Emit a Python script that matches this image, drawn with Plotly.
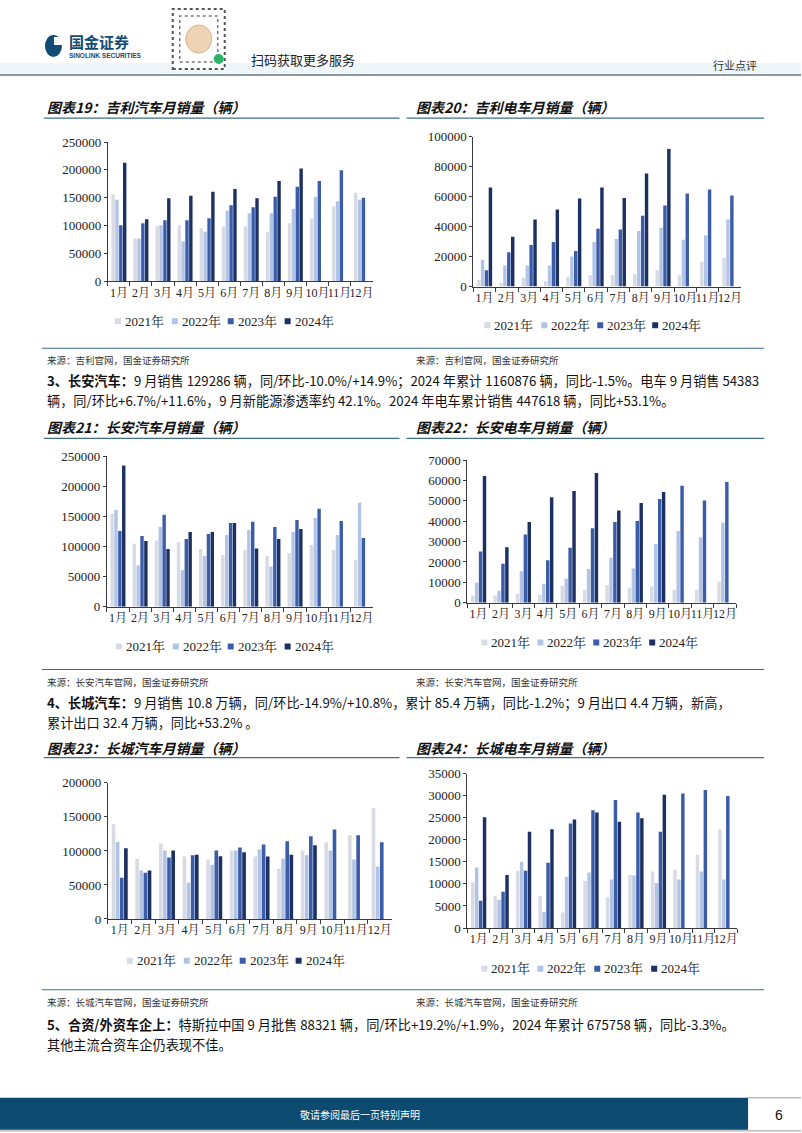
import plotly.graph_objects as go

W, H = 802, 1133

months = ["1月", "2月", "3月", "4月", "5月", "6月", "7月", "8月", "9月", "10月", "11月", "12月"]
years = ["2021年", "2022年", "2023年", "2024年"]
colors = ["#D8DBE3", "#B2C4E6", "#3B5CA8", "#1C3162"]

# 图表19 吉利汽车月销量
geely_2021 = [156000, 76700, 98900, 100700, 95300, 98300, 98300, 88700, 104300, 112100, 134900, 158900]
geely_2022 = [146300, 76700, 100700, 72000, 88700, 126500, 122300, 122300, 130100, 151700, 143900, 146300]
geely_2023 = [100700, 104300, 109700, 109700, 113300, 136700, 133100, 151700, 169700, 179900, 199600, 149900]
geely_2024 = [212800, 111500, 149300, 153500, 160700, 165500, 149300, 179900, 202600, None, None, None]

# 图表20 吉利电车月销量
geely_ev_2021 = [4450, 2200, 5800, 3600, 6500, 7600, 7600, 8200, 10900, 7600, 16500, 19100]
geely_ev_2022 = [17800, 14000, 14000, 14000, 20000, 29800, 31800, 37000, 39200, 31200, 34300, 44800]
geely_ev_2023 = [10900, 22900, 27800, 29800, 23800, 38500, 38100, 47200, 54100, 62100, 64800, 60800]
geely_ev_2024 = [66100, 33200, 44800, 51400, 58800, 66100, 59200, 75500, 91800, None, None, None]

# 图表21 长安汽车月销量
changan_2021 = [154300, 104500, 110100, 107300, 95700, 85700, 94000, 84100, 89000, 102300, 94600, 77400]
changan_2022 = [160400, 68600, 132200, 60800, 84100, 118900, 127200, 66900, 123900, 147100, 118900, 172600]
changan_2023 = [125600, 117300, 152700, 112300, 120600, 138800, 141000, 132200, 143800, 162600, 142100, 113900]
changan_2024 = [234500, 108900, 95700, 123900, 123900, 138800, 96800, 112300, 128900, None, None, None]

# 图表22 长安电车月销量
changan_ev_2021 = [3600, 3600, 4400, 3900, 8200, 6400, 8700, 7400, 8000, 6400, 6400, 10300]
changan_ev_2022 = [9800, 5900, 15400, 9300, 11800, 16500, 22100, 16800, 28800, 35200, 32100, 39300]
changan_ev_2023 = [25200, 19100, 33500, 20800, 27000, 36600, 39600, 40100, 50900, 57400, 50200, 59200]
changan_ev_2024 = [62200, 27200, 39600, 51800, 54800, 63600, 45300, 48900, 54300, None, None, None]

# 图表23 长城汽车月销量
gwm_2021 = [139700, 88700, 111300, 91700, 87300, 100500, 91700, 74000, 100500, 112700, 123000, 162700]
gwm_2022 = [113200, 71100, 100500, 53400, 79900, 100500, 102500, 88700, 93600, 100500, 87300, 77000]
gwm_2023 = [60800, 68100, 90200, 93600, 100500, 104900, 109300, 114200, 121600, 131400, 123000, 112700]
gwm_2024 = [103900, 71100, 100500, 94600, 92200, 98000, 91700, 94600, 108300, None, None, None]

# 图表24 长城电车月销量
gwm_ev_2021 = [10300, 7300, 13000, 7300, 3500, 10700, 7000, 12000, 12800, 13200, 16600, 22300]
gwm_ev_2022 = [13700, 6400, 15000, 3700, 11600, 12600, 11000, 11900, 10200, 11000, 12800, 11000]
gwm_ev_2023 = [6200, 8200, 13000, 14800, 23700, 26700, 29000, 26200, 21800, 30500, 31300, 29900]
gwm_ev_2024 = [25100, 12000, 21800, 22400, 24600, 26200, 24100, 24900, 30200, None, None, None]

titles = ["图表19：吉利汽车月销量（辆）", "图表20：吉利电车月销量（辆）",
          "图表21：长安汽车月销量（辆）", "图表22：长安电车月销量（辆）",
          "图表23：长城汽车月销量（辆）", "图表24：长城电车月销量（辆）"]
sources = ["来源：吉利官网，国金证券研究所", "来源：长安汽车官网，国金证券研究所", "来源：长城汽车官网，国金证券研究所"]


def X(px):
    return px / W


def Y(py):
    # compensate the slight vertical inset observed in the rendered page
    q = (py - 8.0) / 0.986
    return 1 - q / H


charts = [
    dict(series=[geely_2021, geely_2022, geely_2023, geely_2024], xd=(108, 373), yd=(143, 282), ymax=250000, dt=50000,
         leg=(322, [115, 172, 228, 285])),
    dict(series=[geely_ev_2021, geely_ev_2022, geely_ev_2023, geely_ev_2024], xd=(474, 742), yd=(137.7, 287.3), ymax=100000, dt=20000,
         leg=(326, [485, 542, 598, 653])),
    dict(series=[changan_2021, changan_2022, changan_2023, changan_2024], xd=(107, 373), yd=(456.7, 607.3), ymax=250000, dt=50000,
         leg=(647, [116, 173, 228, 285])),
    dict(series=[changan_ev_2021, changan_ev_2022, changan_ev_2023, changan_ev_2024], xd=(468, 737), yd=(460.7, 603.3), ymax=70000, dt=10000,
         leg=(643, [482, 538, 594, 650])),
    dict(series=[gwm_2021, gwm_2022, gwm_2023, gwm_2024], xd=(108, 392), yd=(783.3, 919.3), ymax=200000, dt=50000,
         leg=(961, [127, 184, 240, 296])),
    dict(series=[gwm_ev_2021, gwm_ev_2022, gwm_ev_2023, gwm_ev_2024], xd=(468, 738), yd=(774, 928.3), ymax=35000, dt=5000,
         leg=(969, [482, 538, 595, 652])),
]

fig = go.Figure()
layout = {}
shapes = []
annotations = []

serif = "Liberation Serif, Times New Roman, Noto Serif CJK SC, serif"
cjk = "Noto Sans CJK SC, sans-serif"
axis_col = "#3a3a3a"

for i, ch in enumerate(charts, start=1):
    xa = "x" if i == 1 else f"x{i}"
    ya = "y" if i == 1 else f"y{i}"
    for s, name, col in zip(ch["series"], years, colors):
        fig.add_trace(go.Bar(x=months, y=s, name=name, marker=dict(color=col, line=dict(width=0)),
                             xaxis=xa, yaxis=ya, showlegend=False, hoverinfo="x+y+name"))
    xkey = "xaxis" if i == 1 else f"xaxis{i}"
    ykey = "yaxis" if i == 1 else f"yaxis{i}"
    layout[xkey] = dict(domain=[X(ch["xd"][0]), X(ch["xd"][1])], anchor=ya, type="category",
                        showline=True, linecolor=axis_col, linewidth=1, ticks="outside", tickson="boundaries",
                        ticklen=4, tickcolor=axis_col, tickangle=0, showgrid=False, zeroline=False,
                        tickfont=dict(family=serif, size=12, color="#222"))
    layout[ykey] = dict(domain=[Y(ch["yd"][1]), Y(ch["yd"][0])], anchor=xa, range=[0, ch["ymax"]],
                        dtick=ch["dt"], tick0=0, showline=True, linecolor=axis_col, linewidth=1,
                        ticks="outside", ticklen=3, tickcolor=axis_col, showgrid=False, zeroline=False,
                        tickformat="d", separatethousands=False,
                        tickfont=dict(family=serif, size=13, color="#222"))
    # manual legend
    ly, lxs = ch["leg"]
    for lx, name, col in zip(lxs, years, colors):
        shapes.append(dict(type="rect", xref="paper", yref="paper", x0=X(lx), x1=X(lx + 6),
                           y0=Y(ly + 3), y1=Y(ly - 3), fillcolor=col, line=dict(width=0)))
        annotations.append(dict(text=name, x=X(lx + 8), y=Y(ly), xref="paper", yref="paper",
                                xanchor="left", yanchor="middle", showarrow=False,
                                font=dict(family=serif, size=13, color="#222")))

# chart titles and underlines
title_pos = [(45, 108), (415, 108), (45, 428), (415, 428), (45, 748), (415, 748)]
for t, (tx, ty) in zip(titles, title_pos):
    annotations.append(dict(text=f"<b><i>{t}</i></b>", x=X(tx), y=Y(ty), xref="paper", yref="paper",
                            xanchor="left", yanchor="middle", showarrow=False,
                            font=dict(family=cjk, size=14, color="#111")))
rule_col = "#3D6F8C"
for ly in (119, 439, 758):
    shapes.append(dict(type="line", xref="paper", yref="paper", x0=X(44), x1=X(400), y0=Y(ly), y1=Y(ly),
                       line=dict(color=rule_col, width=1.2)))
    shapes.append(dict(type="line", xref="paper", yref="paper", x0=X(407), x1=X(765), y0=Y(ly), y1=Y(ly),
                       line=dict(color=rule_col, width=1.2)))

# source rules and text
for src, ly in zip(sources, (349, 670, 990)):
    shapes.append(dict(type="line", xref="paper", yref="paper", x0=X(42), x1=X(765), y0=Y(ly), y1=Y(ly),
                       line=dict(color=rule_col, width=1.2)))
    for sx in (45, 415):
        annotations.append(dict(text=src, x=X(sx), y=Y(ly + 12), xref="paper", yref="paper",
                                xanchor="left", yanchor="middle", showarrow=False,
                                font=dict(family=cjk, size=9.5, color="#333")))

# paragraphs
paras = [
    (381, "<b>3、长安汽车：</b>9 月销售 129286 辆，同/环比-10.0%/+14.9%；2024 年累计 1160876 辆，同比-1.5%。电车 9 月销售 54383"),
    (401, "辆，同/环比+6.7%/+11.6%，9 月新能源渗透率约 42.1%。2024 年电车累计销售 447618 辆，同比+53.1%。"),
    (703, "<b>4、长城汽车：</b>9 月销售 10.8 万辆，同/环比-14.9%/+10.8%，累计 85.4 万辆，同比-1.2%；9 月出口 4.4 万辆，新高，"),
    (723, "累计出口 32.4 万辆，同比+53.2% 。"),
    (1025, "<b>5、合资/外资车企上：</b>特斯拉中国 9 月批售 88321 辆，同/环比+19.2%/+1.9%，2024 年累计 675758 辆，同比-3.3%。"),
    (1045, "其他主流合资车企仍表现不佳。"),
]
for py, txt in paras:
    annotations.append(dict(text=txt, x=X(45), y=Y(py), xref="paper", yref="paper",
                            xanchor="left", yanchor="middle", showarrow=False,
                            font=dict(family=cjk, size=13.2, color="#111")))

# header
shapes.append(dict(type="rect", xref="paper", yref="paper", x0=0, x1=1, y0=Y(75), y1=Y(64),
                   fillcolor="#EEF6F9", line=dict(width=0)))
shapes.append(dict(type="line", xref="paper", yref="paper", x0=0, x1=1, y0=Y(76), y1=Y(76),
                   line=dict(color="#8C98A2", width=2)))
# logo mark
shapes.append(dict(type="circle", xref="paper", yref="paper", x0=X(45), x1=X(62), y0=Y(58), y1=Y(36),
                   fillcolor="#124B73", line=dict(width=0)))
shapes.append(dict(type="rect", xref="paper", yref="paper", x0=X(54), x1=X(63), y0=Y(46), y1=Y(38),
                   fillcolor="white", line=dict(width=0)))
annotations.append(dict(text="<b>国金证券</b>", x=X(67), y=Y(42), xref="paper", yref="paper",
                        xanchor="left", yanchor="middle", showarrow=False,
                        font=dict(family=cjk, size=15, color="#124B73")))
annotations.append(dict(text="<b>SINOLINK SECURITIES</b>", x=X(67), y=Y(56.5), xref="paper", yref="paper",
                        xanchor="left", yanchor="middle", showarrow=False,
                        font=dict(family="Liberation Sans, Arial, sans-serif", size=6.5, color="#124B73")))
# QR code placeholder
shapes.append(dict(type="rect", xref="paper", yref="paper", x0=X(173), x1=X(225), y0=Y(70), y1=Y(10),
                   fillcolor="white", line=dict(color="#555", width=2, dash="dot")))
shapes.append(dict(type="rect", xref="paper", yref="paper", x0=X(180), x1=X(218), y0=Y(63), y1=Y(17),
                   fillcolor="white", line=dict(color="#777", width=1.5, dash="dot")))
shapes.append(dict(type="circle", xref="paper", yref="paper", x0=X(186), x1=X(212), y0=Y(54), y1=Y(26),
                   fillcolor="#EED3B4", line=dict(color="#D9B48C", width=1)))
shapes.append(dict(type="circle", xref="paper", yref="paper", x0=X(214), x1=X(224), y0=Y(65), y1=Y(55),
                   fillcolor="#2DB36A", line=dict(width=0)))
annotations.append(dict(text="扫码获取更多服务", x=X(249), y=Y(60), xref="paper", yref="paper",
                        xanchor="left", yanchor="middle", showarrow=False,
                        font=dict(family=cjk, size=13, color="#222")))
annotations.append(dict(text="行业点评", x=X(760), y=Y(66), xref="paper", yref="paper",
                        xanchor="right", yanchor="middle", showarrow=False,
                        font=dict(family=cjk, size=11, color="#333")))

# footer
shapes.append(dict(type="rect", xref="paper", yref="paper", x0=0, x1=X(749), y0=Y(1130), y1=Y(1098),
                   fillcolor="#0C4A6F", line=dict(width=0)))
shapes.append(dict(type="line", xref="paper", yref="paper", x0=X(749), x1=1, y0=Y(1098), y1=Y(1098),
                   line=dict(color="#999", width=1)))
shapes.append(dict(type="line", xref="paper", yref="paper", x0=0, x1=1, y0=Y(1131), y1=Y(1131),
                   line=dict(color="#999", width=1)))
annotations.append(dict(text="敬请参阅最后一页特别声明", x=X(360), y=Y(1115), xref="paper", yref="paper",
                        xanchor="center", yanchor="middle", showarrow=False,
                        font=dict(family=cjk, size=10, color="white")))
annotations.append(dict(text="6", x=X(780), y=Y(1115), xref="paper", yref="paper",
                        xanchor="center", yanchor="middle", showarrow=False,
                        font=dict(family="Liberation Sans, Arial, sans-serif", size=14, color="#111")))

fig.update_layout(
    width=W, height=H, margin=dict(l=0, r=0, t=0, b=0, pad=0),
    paper_bgcolor="white", plot_bgcolor="white",
    barmode="group", bargap=0.3, bargroupgap=0.12,
    showlegend=False, shapes=shapes, annotations=annotations,
    **layout,
)

fig.write_html("out.html", config={"displayModeBar": False},
               post_script="document.body.style.margin='0';document.body.style.overflow='hidden';")
